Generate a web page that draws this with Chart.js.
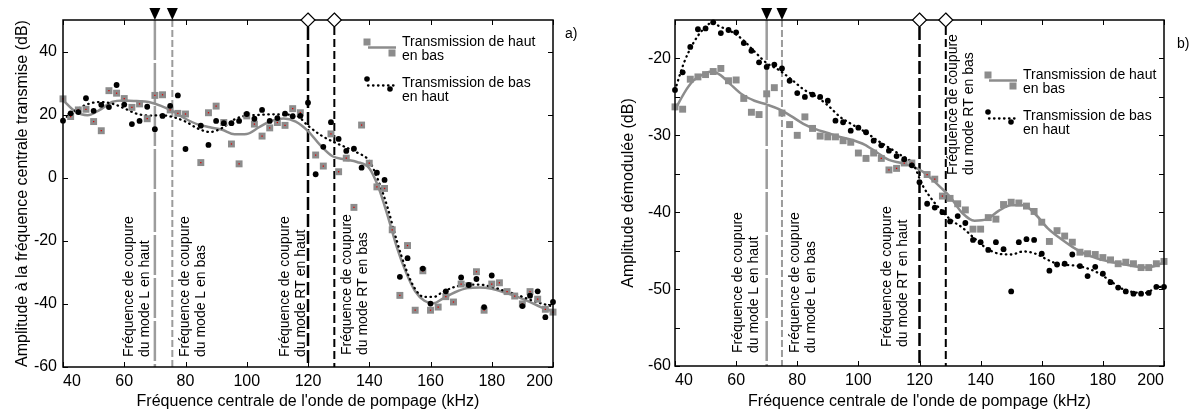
<!DOCTYPE html>
<html><head><meta charset="utf-8">
<script src="https://cdn.jsdelivr.net/npm/chart.js@4.4.1/dist/chart.umd.min.js"></script>
<style>
html,body{margin:0;padding:0;background:#fff;width:1196px;height:414px;overflow:hidden}
.box{position:absolute;top:0;width:598px;height:414px}
canvas{display:block}
</style></head><body>
<div class="box" style="left:0"><canvas id="ca" width="598" height="414"></canvas></div>
<div class="box" style="left:598px"><canvas id="cb" width="598" height="414"></canvas></div>
<script>
const FONT = '"Liberation Sans", Arial, Helvetica, sans-serif';
const xTickValues = [40, 60, 80, 100, 120, 140, 160, 180, 200];
const xTitle = "Fréquence centrale de l'onde de pompage (kHz)";

// ---------- Panel a ----------
const aSquareFreq = [40,42.5,45,47.5,50,52.5,55,57.5,60,62.5,65,67.5,70,72.5,75,77.5,80,85,87.5,90,92.5,95,97.5,100,102.5,105,107.5,110,112.5,115,117.5,122.5,125,127.5,130,132.5,135,137.5,140,142.5,145,147.5,150,152.5,155,157.5,160,162.5,165,167.5,170,172.5,175,177.5,180,182.5,185,187.5,190,192.5,195,197.5,200];
const aSquareAmp  = [25.0,19.4,21.5,21.7,17.8,14.9,27.6,26.8,25.1,22.3,23.4,18.7,26.1,26.3,21.5,20.4,20.2,4.8,20.6,22.7,17.5,10.7,4.4,19.6,17.0,13.2,15.8,17.5,16.6,21.9,20.6,7.2,3.7,13.9,1.9,6.2,-9.4,16.7,4.6,-2.9,-3.4,-16.5,-37.3,-21.5,-42.0,-29.5,-42.0,-41.0,-37.7,-39.4,-33.7,-34.2,-29.8,-42.0,-33.7,-33.3,-36.1,-37.5,-40.0,-36.1,-38.5,-41.7,-42.6];
const aDotFreq = [40,42.5,45,47.5,50,52.5,55,57.5,60,62.5,65,67.5,70,72.5,75,77.5,80,85,87.5,90,92.5,95,97.5,100,102.5,105,107.5,110,112.5,115,117.5,120,122.5,125,127.5,130,132.5,135,137.5,142.5,145,150,152.5,157.5,160,165,170,172.5,175,177.5,180,190,192.5,195,197.5,200];
const aDotAmp  = [18.1,20.4,20.8,25.2,21.2,23.1,22.4,29.4,23.2,17.0,18.0,22.5,15.4,19.6,22.8,26.1,9.1,16.5,10.4,18.0,17.3,17.3,18.0,20.2,18.7,21.5,18.0,18.9,20.3,19.5,19.6,23.8,1.1,9.8,17.6,12.3,8.5,9.2,3.2,1.6,-0.7,-31.4,-25.5,-28.8,-39.9,-36.0,-31.6,-34.0,-32.1,-41.0,-31.0,-40.7,-37.4,-36.0,-44.2,-39.4];
const aFitFreq  = [40,44,48,52,56,60,64,68,72,76,80,84,88,92,96,100,104,108,112,116,120,124,128,132,136,140,143,146,149,152,155,158,161,164,168,172,176,180,184,188,192,196,200];
const aFitGray  = [24.6,21.0,19.8,21.5,24.0,24.5,24.3,24.0,22.8,21.0,18.7,16.9,16.0,15.2,13.8,13.9,16.0,18.0,18.8,17.8,14.8,10.3,6.8,5.8,5.0,3.0,-3.0,-12.0,-22.0,-30.0,-36.0,-39.0,-39.8,-38.3,-36.3,-35.0,-34.8,-35.2,-36.3,-37.6,-39.2,-41.0,-42.4];
const aFitBlack = [18.3,21.3,23.3,24.0,23.5,22.0,20.3,19.7,19.8,19.2,17.8,15.6,14.5,15.8,18.5,19.7,19.9,20.1,20.0,19.8,16.5,13.6,11.5,9.8,8.0,5.3,-1.0,-9.5,-20.0,-29.0,-35.3,-37.8,-37.8,-36.2,-34.6,-33.9,-33.9,-34.6,-35.8,-37.0,-38.5,-39.8,-40.8];
const aYTickValues = [-60, -40, -20, 0, 20, 40];
const aYMinorTicks = [];
const aCutoffFreq = [70, 75.7, 120, 128.6];

// ---------- Panel b ----------
const bSquareFreq = [40,42.5,45,47.5,50,52.5,55,57.5,60,62.5,65,67.5,70,72.5,75,77.5,80,82.5,85,87.5,90,92.5,95,97.5,100,102.5,105,107.5,110,112.5,115,117.5,122.5,125,127.5,130,132.5,135,137.5,140,142.5,145,147.5,150,152.5,155,157.5,160,162.5,165,167.5,170,172.5,175,177.5,180,182.5,185,187.5,190,192.5,195,197.5,200];
const bSquareAmp  = [-26.3,-26.6,-22.7,-22.4,-22.1,-21.7,-21.3,-22.9,-22.8,-25.2,-27.0,-27.3,-24.6,-23.8,-27.1,-28.6,-30.0,-27.6,-29.1,-30.1,-30.2,-30.2,-30.7,-30.9,-32.3,-33.0,-32.3,-33.0,-34.5,-34.3,-33.6,-33.6,-35.1,-35.7,-37.9,-38.2,-38.9,-39.7,-42.2,-42.2,-40.7,-40.9,-39.0,-38.7,-38.8,-39.2,-39.9,-41.3,-43.8,-42.4,-43.1,-43.9,-45.2,-45.4,-45.5,-45.9,-46.2,-46.7,-46.5,-46.7,-47.2,-47.2,-46.7,-46.4];
const bDotFreq = [40,42.5,45,47.5,50,52.5,55,57.5,60,62.5,65,67.5,70,72.5,75,77.5,80,82.5,85,87.5,90,92.5,95,97.5,100,102.5,105,107.5,110,112.5,115,117.5,120,122.5,125,127.5,130,132.5,135,137.5,140,142.5,145,147.5,150,152.5,155,157.5,160,162.5,165,167.5,170,172.5,175,177.5,180,182.5,185,187.5,190,192.5,195,197.5,200];
const bDotAmp  = [-24.1,-21.8,-18.5,-16.2,-16.1,-15.3,-16.7,-16.3,-16.6,-18.0,-19.0,-20.5,-21.1,-20.8,-21.3,-22.9,-24.5,-25.0,-24.7,-25.0,-25.5,-28.1,-28.3,-29.4,-29.0,-29.6,-30.7,-31.3,-32.0,-32.7,-33.1,-33.9,-36.1,-38.9,-39.4,-40.0,-41.2,-40.5,-41.4,-43.6,-43.9,-44.9,-43.9,-44.8,-50.3,-43.9,-43.5,-43.6,-45.4,-47.6,-46.8,-46.7,-45.5,-47.0,-48.3,-47.1,-48.0,-49.1,-49.8,-50.3,-50.6,-50.6,-50.5,-49.7,-49.7];
const bFitFreq  = [40,43,46,49,52,55,58,62,66,70,74,78,82,86,90,94,98,102,106,110,114,118,121,124,127,130,134,138,142,146,150,154,158,162,166,170,174,178,182,186,190,194,197,200];
const bFitGray  = [-26.7,-24.5,-22.9,-22.1,-21.7,-22.2,-23.3,-24.7,-25.5,-26.0,-26.6,-27.5,-28.5,-29.2,-29.7,-30.2,-30.6,-31.2,-32.2,-33.2,-33.6,-34.1,-34.7,-35.7,-36.8,-38.0,-40.1,-41.1,-40.9,-39.8,-39.1,-39.1,-40.3,-42.1,-43.4,-44.5,-45.4,-46.0,-46.4,-46.7,-47.0,-47.2,-47.0,-46.5];
const bFitBlack = [-24.1,-20.5,-18.0,-16.3,-15.4,-15.9,-16.4,-17.5,-19.1,-20.6,-21.5,-22.7,-24.0,-24.9,-26.1,-27.6,-28.6,-29.5,-30.6,-31.6,-32.6,-33.8,-36.5,-38.3,-39.7,-40.9,-42.0,-43.4,-44.7,-45.4,-45.5,-45.1,-45.4,-46.2,-46.8,-46.9,-47.2,-47.8,-48.8,-49.9,-50.4,-50.5,-49.9,-49.6];
const bYTickValues = [-60, -50, -40, -30, -20];
const bYMinorTicks = [-55, -45, -35, -25];
const bCutoffFreq = [70, 75, 120, 128.6];

const cutoffLabels = [
  ["Fréquence de coupure", "du mode L en haut"],
  ["Fréquence de coupure", "du mode L en bas"],
  ["Fréquence de coupure", "du mode RT en haut"],
  ["Fréquence de coupure", "du mode RT en bas"]
];
const legendLabels = [["Transmission de haut", "en bas"], ["Transmission de bas", "en haut"]];

const GRAY = '#8c8c8c';
const LGRAY = '#9c9c9c';
const cutoffStyles = [
  {color: LGRAY, width: 2.5, dash: [40, 3], marker: 'tri'},
  {color: LGRAY, width: 2, dash: [7, 3], marker: 'tri'},
  {color: '#000', width: 2.5, dash: [13, 4], marker: 'dia'},
  {color: '#000', width: 2, dash: [8, 4], marker: 'dia'}
];

function pts(xs, ys) { return xs.map((x, i) => ({x: x, y: ys[i]})); }

function makePanel(id, P) {
  const decor = {
    id: 'decor',
    beforeDatasetsDraw(chart) {
      const {ctx, chartArea: a, scales: {x}} = chart;
      ctx.save();
      P.cutoffs.forEach((f, i) => {
        const st = cutoffStyles[i];
        const px = x.getPixelForValue(f);
        ctx.beginPath();
        ctx.setLineDash(st.dash);
        ctx.lineWidth = st.width;
        ctx.strokeStyle = st.color;
        ctx.moveTo(px, a.top + (st.marker === 'dia' ? 7 : 0));
        ctx.lineTo(px, a.bottom);
        ctx.stroke();
      });
      ctx.restore();
    },
    afterDatasetsDraw(chart) {
      const {ctx, chartArea: a, scales: {x, y}} = chart;
      ctx.save();
      ctx.setLineDash([]);
      ctx.strokeStyle = '#000';
      ctx.lineWidth = 1.5;
      ctx.strokeRect(a.left, a.top, a.right - a.left, a.bottom - a.top);
      ctx.lineWidth = 1;
      ctx.beginPath();
      const TL = 5;
      xTickValues.forEach(v => {
        const px = Math.round(x.getPixelForValue(v)) + 0.5;
        ctx.moveTo(px, a.bottom); ctx.lineTo(px, a.bottom - TL);
        ctx.moveTo(px, a.top); ctx.lineTo(px, a.top + TL);
      });
      P.yTicks.concat(P.yMinor).forEach(v => {
        const py = Math.round(y.getPixelForValue(v)) + 0.5;
        ctx.moveTo(a.left, py); ctx.lineTo(a.left + TL, py);
        ctx.moveTo(a.right, py); ctx.lineTo(a.right - TL, py);
      });
      ctx.stroke();
      P.cutoffs.forEach((f, i) => {
        const st = cutoffStyles[i];
        const px = x.getPixelForValue(f);
        ctx.beginPath();
        if (st.marker === 'tri') {
          ctx.moveTo(px - 5.5, a.top - 12);
          ctx.lineTo(px + 5.5, a.top - 12);
          ctx.lineTo(px, a.top);
          ctx.closePath();
          ctx.fillStyle = '#000';
          ctx.fill();
        } else {
          ctx.moveTo(px, a.top - 7);
          ctx.lineTo(px + 7, a.top);
          ctx.lineTo(px, a.top + 7);
          ctx.lineTo(px - 7, a.top);
          ctx.closePath();
          ctx.fillStyle = '#fff';
          ctx.fill();
          ctx.lineWidth = 1.2;
          ctx.strokeStyle = '#000';
          ctx.stroke();
        }
      });
      ctx.fillStyle = '#000';
      ctx.font = '14px ' + FONT;
      ctx.textAlign = 'left';
      ctx.textBaseline = 'middle';
      P.cutoffs.forEach((f, i) => {
        const px = x.getPixelForValue(f);
        const [dx, yb] = P.labelPos[i];
        cutoffLabels[i].forEach((t, j) => {
          ctx.save();
          ctx.translate(px + dx + j * 16, yb);
          ctx.rotate(-Math.PI / 2);
          ctx.fillText(t, 0, 0);
          ctx.restore();
        });
      });
      const [tx, ty] = P.legendPos;
      ctx.fillStyle = GRAY;
      ctx.fillRect(tx - 35 - 3.5, ty - 3.5, 7, 7);
      ctx.fillRect(tx - 10 - 3.5, ty + 11 - 3.5, 7, 7);
      ctx.beginPath();
      ctx.strokeStyle = GRAY; ctx.lineWidth = 2.5;
      ctx.moveTo(tx - 34, ty + 5.5); ctx.lineTo(tx - 6, ty + 5.5); ctx.stroke();
      const ty2 = ty + 41;
      ctx.fillStyle = '#000';
      ctx.beginPath(); ctx.arc(tx - 35, ty2 - 4, 2.8, 0, 2 * Math.PI); ctx.fill();
      ctx.beginPath(); ctx.arc(tx - 12, ty2 + 6, 2.8, 0, 2 * Math.PI); ctx.fill();
      ctx.beginPath();
      ctx.strokeStyle = '#000'; ctx.lineWidth = 2.3; ctx.lineCap = 'round';
      ctx.setLineDash([0.5, 4.5]);
      ctx.moveTo(tx - 34, ty2 + 2.5); ctx.lineTo(tx - 6, ty2 + 2.5); ctx.stroke();
      ctx.setLineDash([]);
      ctx.fillStyle = '#000';
      ctx.font = '14px ' + FONT;
      ctx.textBaseline = 'middle';
      legendLabels[0].forEach((t, j) => ctx.fillText(t, tx, ty + j * 14));
      legendLabels[1].forEach((t, j) => ctx.fillText(t, tx, ty2 + j * 14));
      ctx.fillText(P.letter, P.letterPos[0], P.letterPos[1]);
      ctx.restore();
    }
  };

  const redSquares = P.sqX.map((v, i) => ({x: v, y: P.sqY[i]})).filter(p => p.x >= P.redRange[0] && p.x <= P.redRange[1]);

  return new Chart(document.getElementById(id), {
    type: 'scatter',
    data: {
      datasets: [
        {type: 'line', data: pts(P.fitX, P.fitBlack), borderColor: '#000', borderWidth: 2.3, borderDash: [0.5, 4.5], borderCapStyle: 'round', pointRadius: 0, cubicInterpolationMode: 'monotone', fill: false, order: 5},
        {type: 'line', data: pts(P.fitX, P.fitGray), borderColor: GRAY, borderWidth: 2.5, pointRadius: 0, cubicInterpolationMode: 'monotone', fill: false, order: 6},
        {data: pts(P.sqX, P.sqY), pointStyle: 'rect', pointRadius: 4.9, pointBackgroundColor: GRAY, backgroundColor: GRAY, pointBorderWidth: 0, borderWidth: 0, clip: 8, order: 4},
        {data: redSquares, pointStyle: 'rect', pointRadius: 0.9, pointBackgroundColor: '#e00000', backgroundColor: '#e00000', pointBorderWidth: 0, borderWidth: 0, clip: 8, order: 3},
        {data: pts(P.dotX, P.dotY), pointStyle: 'circle', pointRadius: 2.9, pointBackgroundColor: '#000', backgroundColor: '#000', pointBorderWidth: 0, borderWidth: 0, clip: 8, order: 2}
      ]
    },
    options: {
      responsive: false,
      animation: false,
      events: [],
      layout: {padding: {left: 0, top: 20, right: P.padRight, bottom: 0}},
      plugins: {legend: {display: false}, tooltip: {enabled: false}},
      scales: {
        x: {
          type: 'linear', position: 'bottom', min: 40, max: 200,
          afterBuildTicks: s => { s.ticks = xTickValues.map(v => ({value: v})); },
          ticks: {align: 'inner', padding: 5, color: '#000', font: {family: FONT, size: 16}, maxRotation: 0, autoSkip: false},
          grid: {display: false, drawTicks: false},
          border: {display: false},
          title: {display: true, text: xTitle, color: '#000', font: {family: FONT, size: 16}, padding: {top: 0, bottom: 3}},
          afterFit: s => { s.height = P.xHeight; }
        },
        y: {
          type: 'linear', position: 'left', min: P.yMin, max: P.yMax,
          afterBuildTicks: s => { s.ticks = P.yTicks.map(v => ({value: v})); },
          ticks: {padding: P.yPad, color: '#000', font: {family: FONT, size: 16}, autoSkip: false},
          grid: {display: false, drawTicks: false},
          border: {display: false},
          title: {display: true, text: P.yTitle, color: '#000', font: {family: FONT, size: 16}, padding: {top: P.yTitlePad, bottom: 0}},
          afterFit: s => { s.width = P.yWidth; }
        }
      }
    },
    plugins: [decor]
  });
}

makePanel('ca', {
  sqX: aSquareFreq, sqY: aSquareAmp, dotX: aDotFreq, dotY: aDotAmp,
  fitX: aFitFreq, fitGray: aFitGray, fitBlack: aFitBlack,
  yMin: -60, yMax: 50, yTicks: aYTickValues, yMinor: aYMinorTicks,
  cutoffs: aCutoffFreq,
  yTitle: "Amplitude à la fréquence centrale transmise (dB)",
  padRight: 45, xHeight: 47, yWidth: 63, yPad: 6, yTitlePad: 13,
  labelPos: [[-26, 357], [13, 357], [-23, 357], [13, 355]],
  legendPos: [402, 42], letter: 'a)', letterPos: [565, 34],
  redRange: [0, 1000]
});

makePanel('cb', {
  sqX: bSquareFreq, sqY: bSquareAmp, dotX: bDotFreq, dotY: bDotAmp,
  fitX: bFitFreq, fitGray: bFitGray, fitBlack: bFitBlack,
  yMin: -60, yMax: -15, yTicks: bYTickValues, yMinor: bYMinorTicks,
  cutoffs: bCutoffFreq,
  yTitle: "Amplitude démodulée (dB)",
  padRight: 32, xHeight: 48, yWidth: 77, yPad: 4, yTitlePad: 21,
  labelPos: [[-29, 353], [13, 353], [-32, 347], [7, 175]],
  legendPos: [425, 75], letter: 'b)', letterPos: [579, 44],
  redRange: [106, 128]
});
</script>
</body></html>
